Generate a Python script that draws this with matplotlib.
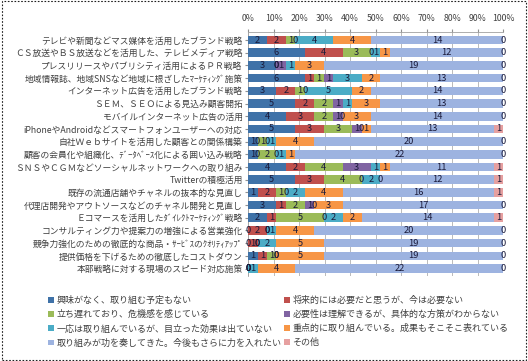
import numpy as np
import matplotlib.pyplot as plt
from matplotlib.patches import Rectangle

plt.rcParams['font.family'] = ['Noto Sans CJK JP', 'DejaVu Sans']

# 施策（上から順）
measures = [
    'テレビや新聞などマス媒体を活用したブランド戦略',
    'ＣＳ放送やＢＳ放送などを活用した、テレビメディア戦略',
    'プレスリリースやパブリシティ活用によるＰＲ戦略',
    '地域情報誌、地域SNSなど地域に根ざしたﾏｰｹﾃｨﾝｸﾞ施策',
    'インターネット広告を活用したブランド戦略',
    'ＳＥＭ、ＳＥＯによる見込み顧客開拓',
    'モバイルインターネット広告の活用',
    'iPhoneやAndroidなどスマートフォンユーザーへの対応',
    '自社Ｗｅｂサイトを活用した顧客との関係構築',
    '顧客の会員化や組織化、ﾃﾞｰﾀﾍﾞｰｽ化による囲い込み戦略',
    'ＳＮＳやＣＧＭなどソーシャルネットワークへの取り組み',
    'Twitterの積極活用',
    '既存の流通店舗やチャネルの抜本的な見直し',
    '代理店開発やアウトソースなどのチャネル開発と見直し',
    'Ｅコマースを活用したﾀﾞｲﾚｸﾄﾏｰｹﾃｨﾝｸﾞ戦略',
    'コンサルティング力や提案力の増強による営業強化',
    '競争力強化のための徹底的な商品・ｻｰﾋﾞｽのｸｵﾘﾃｨｱｯﾌﾟ',
    '提供価格を下げるための徹底したコストダウン',
    '本部戦略に対する現場のスピード対応施策',
]

answers = [
    '興味がなく、取り組む予定もない',
    '将来的には必要だと思うが、今は必要ない',
    '立ち遅れており、危機感を感じている',
    '必要性は理解できるが、具体的な方策がわからない',
    '一応は取り組んでいるが、目立った効果は出ていない',
    '重点的に取り組んでいる。成果もそこそこ表れている',
    '取り組みが功を奏してきた。今後もさらに力を入れたい',
    'その他',
]

# 回答数（各施策ごと）
no_interest = [2, 6, 3, 6, 3, 5, 4, 5, 1, 1, 4, 5, 1, 3, 2, 0, 0, 1, 0]
future_need = [2, 4, 0, 1, 2, 2, 3, 3, 0, 0, 2, 3, 2, 1, 1, 2, 1, 1, 0]
behind = [1, 3, 0, 1, 1, 2, 2, 3, 1, 2, 4, 4, 1, 2, 5, 0, 0, 1, 0]
unclear = [0, 0, 1, 1, 0, 1, 1, 1, 0, 0, 3, 0, 0, 1, 0, 0, 0, 0, 0]
no_effect = [4, 1, 1, 3, 5, 1, 0, 0, 1, 1, 1, 2, 2, 0, 2, 1, 2, 0, 1]
some_effect = [4, 1, 3, 2, 2, 3, 3, 1, 4, 1, 1, 0, 4, 3, 2, 4, 5, 5, 4]
success = [14, 12, 19, 13, 14, 13, 14, 13, 20, 22, 11, 12, 16, 17, 14, 20, 19, 19, 22]
other = [0, 0, 0, 0, 0, 0, 0, 1, 0, 0, 1, 1, 1, 0, 1, 0, 0, 0, 0]

series = [no_interest, future_need, behind, unclear, no_effect, some_effect, success, other]
colors = ['#3F72A8', '#C0504D', '#9BBB59', '#8064A2', '#4BACC6', '#F79646', '#9DB3E0', '#E6A0A0']

counts = np.array(series, dtype=float)
totals = counts.sum(axis=0)
pct = counts / totals * 100

fig = plt.figure(figsize=(5.28, 3.61), dpi=100)
ax = fig.add_axes([0.47, 0.235, 0.483, 0.675])

y = np.arange(len(measures))
left = np.zeros(len(measures))
handles = []
for vals, cnt, col, name in zip(pct, series, colors, answers):
    bars = ax.barh(y, vals, left=left, height=0.68, color=col, label=name, zorder=3)
    ax.bar_label(bars, labels=[str(c) for c in cnt], label_type='center',
                 fontsize=6.7, color='#1a1a3a', zorder=4)
    handles.append(bars)
    left += vals

ax.set_xlim(0, 100)
ax.set_ylim(len(measures) - 0.4, -0.6)
ax.set_yticks(y)
ax.set_yticklabels(measures, fontsize=6.3, color='#404040')
ax.set_xticks(np.arange(0, 101, 10))
ax.set_xticklabels([f'{v}%' for v in range(0, 101, 10)], fontsize=6.3, color='#404040')
ax.xaxis.tick_top()
ax.tick_params(axis='both', length=2, color='#909090', pad=2)
ax.tick_params(axis='x', pad=5)
ax.grid(axis='x', color='#B0B0B0', linewidth=0.6, zorder=0)
for side in ['left', 'top', 'bottom', 'right']:
    ax.spines[side].set_color('#A0A0A0')
    ax.spines[side].set_linewidth(0.6)
ax.spines['right'].set_visible(False)
ax.spines['bottom'].set_visible(False)

order = [0, 2, 4, 6, 1, 3, 5, 7]
fig.legend([handles[i] for i in order], [answers[i] for i in order],
           loc='upper left', bbox_to_anchor=(0.085, 0.19), ncol=2, frameon=False,
           fontsize=6.5, labelcolor='#404040', handlelength=0.6, handleheight=0.6,
           handletextpad=0.3, columnspacing=0.3, labelspacing=0.55, borderaxespad=0)

fig.patches.append(Rectangle((0.003, 0.004), 0.994, 0.992, transform=fig.transFigure,
                             fill=False, linestyle=(0, (1.5, 1.5)), linewidth=0.8,
                             edgecolor='#202020'))

fig.savefig('out.png', dpi=100)
